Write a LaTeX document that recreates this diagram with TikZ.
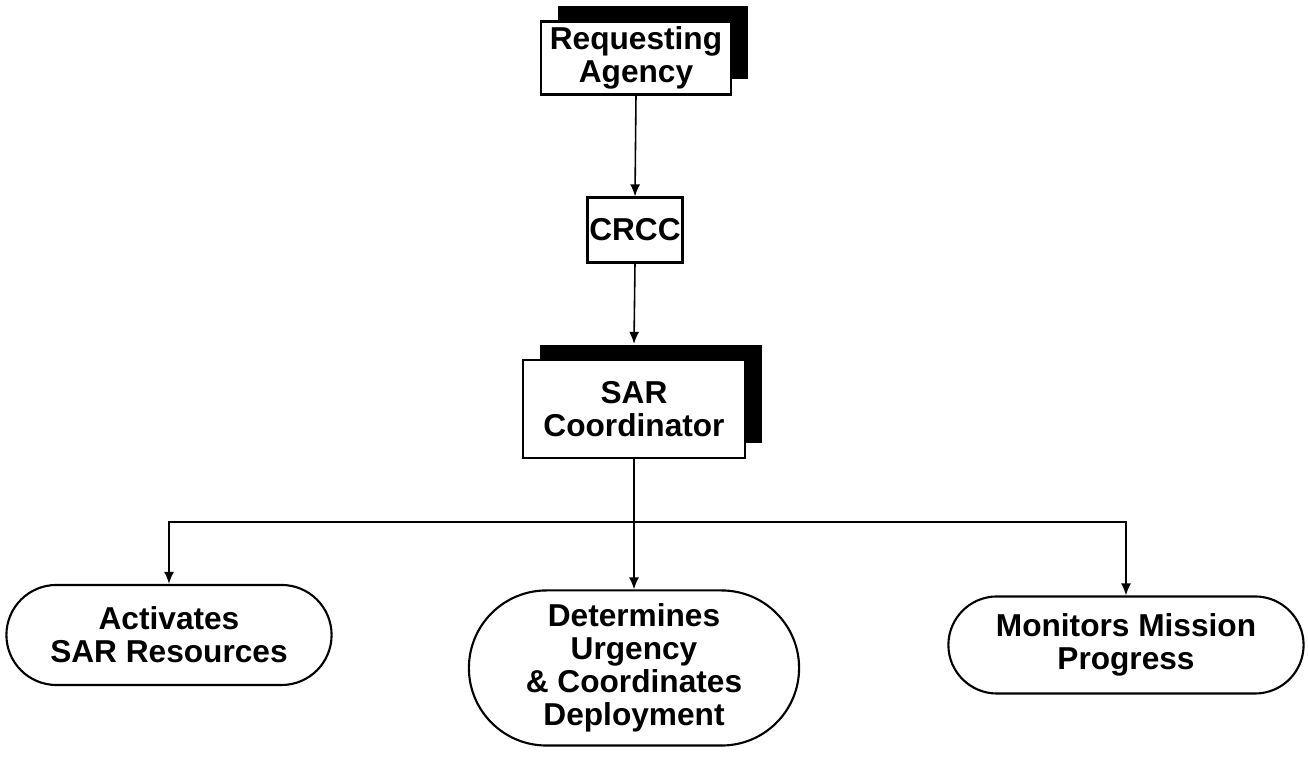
\documentclass[tikz,border=0pt]{standalone}
\usepackage{fontspec}
\setmainfont{Liberation Sans}
\usetikzlibrary{arrows.meta,shapes.misc,shadows}

\begin{document}
\begin{tikzpicture}[x=0.01cm,y=-0.01cm,
    font=\fontsize{9}{9.4}\selectfont\bfseries,
    box/.style={draw=black,line width=0.6pt,fill=white,inner sep=0pt,align=center},
    shadowbox/.style={box,drop shadow={shadow xshift=0.17cm,shadow yshift=0.15cm,fill=black,opacity=1}},
    pill/.style={draw=black,line width=0.6pt,rounded rectangle,inner sep=0pt,align=center},
    link/.style={black,line width=0.45pt,-{Latex[length=1.2mm,width=1mm]}}]
    \useasboundingbox (0,0) rectangle (1308,762);

    \node[shadowbox,minimum width=1.9cm,minimum height=0.73cm] (agency) at (636,58) {Requesting\\Agency};
    \node[box,minimum width=0.95cm,minimum height=0.65cm] (crcc) at (635,230) {CRCC};
    \node[shadowbox,minimum width=2.22cm,minimum height=0.98cm] (sarc) at (634,409) {SAR\\Coordinator};

    \node[pill,minimum width=3.25cm,minimum height=1.0cm] (act) at (169,635) {Activates\\SAR Resources};
    \node[pill,minimum width=3.3cm,minimum height=1.55cm] (det) at (634,668) {Determines\\Urgency\\\& Coordinates\\Deployment};
    \node[pill,minimum width=3.55cm,minimum height=0.97cm] (mon) at (1126,645) {Monitors Mission\\Progress};

    \coordinate (bus) at (634,522);

    \draw[link] (agency.south) -- (crcc.north);
    \draw[link] (crcc.south) -- ([yshift=0.15cm]sarc.north);
    \draw[link] (sarc.south) -- (det.north);
    \draw[link] (bus) -| (act.north);
    \draw[link] (bus) -| (mon.north);

\end{tikzpicture}
\end{document}
